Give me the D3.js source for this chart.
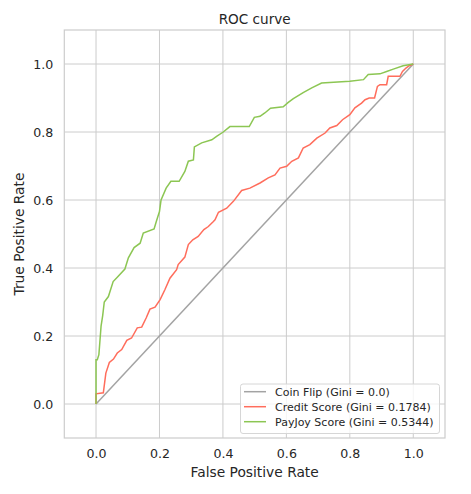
<!DOCTYPE html>
<html>
<head>
<meta charset="utf-8">
<script src="https://cdn.jsdelivr.net/npm/d3@7"></script>
<style>
  body { margin: 0; background: #fff; }
</style>
</head>
<body>
<svg id="chart" width="471" height="494"></svg>
<script>
const ticks = [0.0, 0.2, 0.4, 0.6, 0.8, 1.0];
const tickLabels = ["0.0", "0.2", "0.4", "0.6", "0.8", "1.0"];
const seriesNames = ["Coin Flip (Gini = 0.0)", "Credit Score (Gini = 0.1784)", "PayJoy Score (Gini = 0.5344)"];
const seriesColors = ["#a3a3a3", "#ff6d5c", "#8cc653"];

const coinFpr = [0, 1];
const coinTpr = [0, 1];

const creditFpr = [0, 0, 0.023, 0.031, 0.042, 0.055, 0.067, 0.081, 0.097, 0.112, 0.130, 0.144, 0.158, 0.170, 0.186, 0.202, 0.217, 0.233, 0.254, 0.259, 0.280, 0.291, 0.305, 0.322, 0.340, 0.354, 0.370, 0.375, 0.386, 0.412, 0.433, 0.459, 0.485, 0.517, 0.543, 0.564, 0.580, 0.601, 0.617, 0.638, 0.653, 0.674, 0.696, 0.722, 0.737, 0.759, 0.777, 0.800, 0.816, 0.837, 0.848, 0.861, 0.878, 0.887, 0.895, 0.916, 0.921, 0.958, 0.966, 0.977, 0.987, 1.0];
const creditTpr = [0, 0.030, 0.033, 0.091, 0.122, 0.132, 0.150, 0.160, 0.187, 0.194, 0.224, 0.226, 0.253, 0.279, 0.285, 0.307, 0.336, 0.370, 0.395, 0.410, 0.432, 0.469, 0.483, 0.493, 0.513, 0.522, 0.537, 0.542, 0.564, 0.576, 0.596, 0.628, 0.635, 0.650, 0.665, 0.674, 0.694, 0.699, 0.714, 0.724, 0.753, 0.763, 0.782, 0.797, 0.812, 0.819, 0.836, 0.851, 0.871, 0.885, 0.895, 0.900, 0.900, 0.934, 0.939, 0.939, 0.964, 0.964, 0.978, 0.988, 0.995, 1.0];

const payjoyFpr = [0, 0, 0.004, 0.009, 0.016, 0.021, 0.026, 0.039, 0.054, 0.067, 0.091, 0.102, 0.120, 0.139, 0.149, 0.183, 0.190, 0.200, 0.205, 0.221, 0.236, 0.262, 0.280, 0.291, 0.307, 0.310, 0.333, 0.365, 0.380, 0.401, 0.422, 0.483, 0.499, 0.517, 0.532, 0.550, 0.590, 0.606, 0.622, 0.653, 0.680, 0.711, 0.800, 0.843, 0.858, 0.895, 0.916, 0.937, 0.968, 1.0];
const payjoyTpr = [0, 0.130, 0.130, 0.145, 0.230, 0.260, 0.300, 0.316, 0.360, 0.373, 0.397, 0.430, 0.460, 0.473, 0.503, 0.515, 0.537, 0.566, 0.600, 0.635, 0.655, 0.655, 0.684, 0.714, 0.718, 0.756, 0.768, 0.777, 0.787, 0.800, 0.816, 0.816, 0.843, 0.846, 0.856, 0.870, 0.874, 0.887, 0.898, 0.916, 0.930, 0.944, 0.949, 0.954, 0.969, 0.971, 0.978, 0.985, 0.995, 1.0];

const FONT = "DejaVu Sans";
const TXT = "#262626";
const svg = d3.select("#chart");
const margin = {left: 64.3, right: 26, top: 30, bottom: 56};
const W = 471, H = 494;
const x = d3.scaleLinear().domain([-0.1, 1.1]).range([margin.left, W - margin.right]);
const y = d3.scaleLinear().domain([-0.1, 1.1]).range([H - margin.bottom, margin.top]);

// grid
const g = svg.append("g");
g.selectAll("line.vx").data(ticks).enter().append("line")
  .attr("x1", d => x(d)).attr("x2", d => x(d))
  .attr("y1", y(-0.1)).attr("y2", y(1.1))
  .attr("stroke", "#cccccc").attr("stroke-width", 1);
g.selectAll("line.hy").data(ticks).enter().append("line")
  .attr("y1", d => y(d)).attr("y2", d => y(d))
  .attr("x1", x(-0.1)).attr("x2", x(1.1))
  .attr("stroke", "#cccccc").attr("stroke-width", 1);
// frame
svg.append("rect")
  .attr("x", x(-0.1)).attr("y", y(1.1))
  .attr("width", x(1.1) - x(-0.1)).attr("height", y(-0.1) - y(1.1))
  .attr("fill", "none").attr("stroke", "#cccccc").attr("stroke-width", 1.2);

// axes (labels only)
const xAxis = d3.axisBottom(x).tickValues(ticks).tickFormat((d, i) => tickLabels[i]).tickSize(0).tickPadding(11);
const xa = svg.append("g").attr("transform", `translate(0,${y(-0.1)})`).call(xAxis);
xa.select(".domain").remove();
xa.selectAll("text").style("font-size", "12.6px").style("font-family", FONT).attr("fill", TXT);

const yAxis = d3.axisLeft(y).tickValues(ticks).tickFormat((d, i) => tickLabels[i]).tickSize(0).tickPadding(11);
const ya = svg.append("g").attr("transform", `translate(${x(-0.1)},0)`).call(yAxis);
ya.select(".domain").remove();
ya.selectAll("text").style("font-size", "12.6px").style("font-family", FONT).attr("fill", TXT);

// lines
const line = d3.line().x(d => x(d[0])).y(d => y(d[1]));
const series = [
  d3.zip(coinFpr, coinTpr),
  d3.zip(creditFpr, creditTpr),
  d3.zip(payjoyFpr, payjoyTpr)
];
series.forEach((s, i) => {
  svg.append("path").datum(s)
    .attr("d", line)
    .attr("fill", "none")
    .attr("stroke", seriesColors[i])
    .attr("stroke-width", 1.5)
    .attr("stroke-linejoin", "miter");
});

// titles
function txt(xp, yp, s, size, rot) {
  const t = svg.append("text")
    .attr("transform", `translate(${xp},${yp})` + (rot ? " rotate(-90)" : ""))
    .attr("text-anchor", "middle").attr("fill", TXT)
    .style("font-family", FONT).style("font-size", size + "px").text(s);
  return t;
}
const cx = (x(-0.1) + x(1.1)) / 2;
txt(cx, 24, "ROC curve", 13.6);
txt(cx, 477, "False Positive Rate", 13.8);
txt(24, (y(-0.1) + y(1.1)) / 2, "True Positive Rate", 13.8, true);

// legend
const lg = svg.append("g").attr("transform", "translate(240.5,384)");
lg.append("rect").attr("width", 199).attr("height", 49.5).attr("rx", 2.5)
  .attr("fill", "#ffffff").attr("fill-opacity", 0.8).attr("stroke", "#d6d6d6");
seriesNames.forEach((n, i) => {
  const yy = 7.7 + i * 15;
  lg.append("line").attr("x1", 3.5).attr("x2", 25.5).attr("y1", yy).attr("y2", yy)
    .attr("stroke", seriesColors[i]).attr("stroke-width", 1.5);
  lg.append("text").attr("x", 34.5).attr("y", yy + 3.9).attr("fill", TXT)
    .style("font-family", FONT).style("font-size", "11px").text(n);
});
</script>
</body>
</html>
